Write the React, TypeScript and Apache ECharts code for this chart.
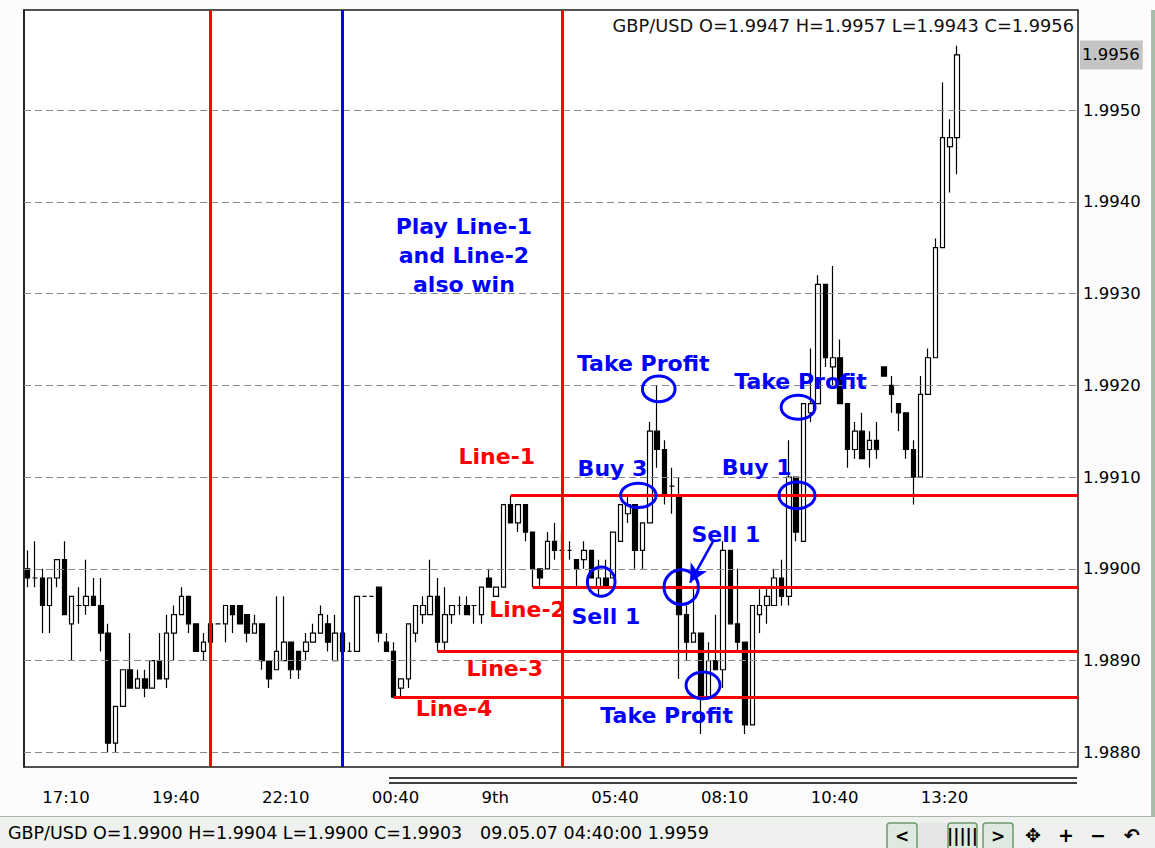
import React, { useEffect, useRef } from 'react';
import * as echarts from 'echarts';

const SYMBOL = 'GBP/USD';
const BAR_COUNT = 144;

// [open, close, low, high] per 10-minute bar
const candles: number[][] = [
  [1.9900, 1.9899, 1.9898, 1.9902], [1.9899, 1.9899, 1.9898, 1.9903], [1.9899, 1.9896, 1.9893, 1.9900], [1.9896, 1.9899, 1.9893, 1.9899],
  [1.9899, 1.9901, 1.9898, 1.9901], [1.9901, 1.9895, 1.9895, 1.9903], [1.9894, 1.9897, 1.9890, 1.9897], [1.9896, 1.9896, 1.9894, 1.9898],
  [1.9896, 1.9897, 1.9895, 1.9901], [1.9897, 1.9896, 1.9896, 1.9899], [1.9896, 1.9893, 1.9891, 1.9899], [1.9893, 1.9881, 1.9880, 1.9894],
  [1.9881, 1.9885, 1.9880, 1.9885], [1.9885, 1.9889, 1.9885, 1.9889], [1.9889, 1.9887, 1.9887, 1.9893], [1.9887, 1.9888, 1.9887, 1.9889],
  [1.9888, 1.9887, 1.9886, 1.9889], [1.9887, 1.9890, 1.9887, 1.9890], [1.9890, 1.9888, 1.9888, 1.9893], [1.9888, 1.9893, 1.9887, 1.9895],
  [1.9893, 1.9895, 1.9890, 1.9896], [1.9895, 1.9897, 1.9895, 1.9898], [1.9897, 1.9894, 1.9893, 1.9897], [1.9894, 1.9891, 1.9891, 1.9894],
  [1.9891, 1.9892, 1.9890, 1.9893], [1.9892, 1.9894, 1.9890, 1.9895], [1.9894, 1.9894, 1.9894, 1.9894], [1.9894, 1.9896, 1.9892, 1.9896],
  [1.9896, 1.9895, 1.9893, 1.9896], [1.9896, 1.9894, 1.9894, 1.9896], [1.9895, 1.9893, 1.9892, 1.9895], [1.9893, 1.9894, 1.9893, 1.9895],
  [1.9894, 1.9890, 1.9889, 1.9894], [1.9890, 1.9888, 1.9887, 1.9890], [1.9889, 1.9891, 1.9889, 1.9897], [1.9890, 1.9892, 1.9890, 1.9897],
  [1.9892, 1.9889, 1.9888, 1.9892], [1.9891, 1.9889, 1.9888, 1.9891], [1.9891, 1.9892, 1.9890, 1.9893], [1.9892, 1.9893, 1.9892, 1.9894],
  [1.9893, 1.9895, 1.9893, 1.9896], [1.9894, 1.9892, 1.9891, 1.9895], [1.9890, 1.9893, 1.9890, 1.9895], [1.9893, 1.9891, 1.9889, 1.9893],
  [1.9891, 1.9891, 1.9891, 1.9892], [1.9891, 1.9897, 1.9891, 1.9897], [1.9897, 1.9897, 1.9897, 1.9897], [1.9897, 1.9897, 1.9897, 1.9897],
  [1.9898, 1.9893, 1.9892, 1.9898], [1.9892, 1.9891, 1.9891, 1.9893], [1.9891, 1.9886, 1.9886, 1.9892], [1.9887, 1.9888, 1.9886, 1.9888],
  [1.9888, 1.9894, 1.9887, 1.9894], [1.9893, 1.9896, 1.9892, 1.9896], [1.9895, 1.9896, 1.9894, 1.9897], [1.9895, 1.9897, 1.9895, 1.9901],
  [1.9897, 1.9892, 1.9891, 1.9899], [1.9892, 1.9895, 1.9891, 1.9898], [1.9895, 1.9896, 1.9894, 1.9896], [1.9896, 1.9896, 1.9895, 1.9897],
  [1.9896, 1.9895, 1.9895, 1.9897], [1.9896, 1.9896, 1.9894, 1.9896], [1.9895, 1.9898, 1.9894, 1.9898], [1.9899, 1.9898, 1.9898, 1.9900],
  [1.9897, 1.9898, 1.9897, 1.9898], [1.9898, 1.9907, 1.9898, 1.9907], [1.9907, 1.9905, 1.9905, 1.9908], [1.9905, 1.9907, 1.9904, 1.9907],
  [1.9907, 1.9904, 1.9903, 1.9907], [1.9904, 1.9900, 1.9898, 1.9904], [1.9900, 1.9899, 1.9898, 1.9900], [1.9900, 1.9903, 1.9900, 1.9904],
  [1.9903, 1.9902, 1.9901, 1.9905], [1.9902, 1.9902, 1.9901, 1.9904], [1.9902, 1.9902, 1.9901, 1.9903], [1.9901, 1.9900, 1.9898, 1.9901],
  [1.9901, 1.9902, 1.9900, 1.9903], [1.9902, 1.9899, 1.9899, 1.9902], [1.9898, 1.9899, 1.9897, 1.9901], [1.9899, 1.9898, 1.9898, 1.9901],
  [1.9899, 1.9904, 1.9899, 1.9904], [1.9903, 1.9907, 1.9903, 1.9907], [1.9906, 1.9907, 1.9905, 1.9908], [1.9907, 1.9902, 1.9900, 1.9907],
  [1.9902, 1.9905, 1.9900, 1.9905], [1.9905, 1.9915, 1.9905, 1.9916], [1.9915, 1.9913, 1.9911, 1.9920], [1.9913, 1.9908, 1.9907, 1.9914],
  [1.9909, 1.9909, 1.9906, 1.9911], [1.9908, 1.9895, 1.9888, 1.9910], [1.9895, 1.9892, 1.9890, 1.9896], [1.9892, 1.9893, 1.9892, 1.9898],
  [1.9893, 1.9886, 1.9882, 1.9893], [1.9886, 1.9890, 1.9886, 1.9892], [1.9890, 1.9889, 1.9889, 1.9895], [1.9889, 1.9902, 1.9887, 1.9903],
  [1.9902, 1.9894, 1.9894, 1.9902], [1.9894, 1.9892, 1.9891, 1.9900], [1.9892, 1.9883, 1.9882, 1.9892], [1.9883, 1.9896, 1.9883, 1.9896],
  [1.9895, 1.9896, 1.9893, 1.9898], [1.9896, 1.9897, 1.9894, 1.9898], [1.9896, 1.9899, 1.9896, 1.9900], [1.9899, 1.9897, 1.9896, 1.9901],
  [1.9897, 1.9910, 1.9896, 1.9914], [1.9910, 1.9904, 1.9903, 1.9910], [1.9903, 1.9918, 1.9903, 1.9918], [1.9917, 1.9918, 1.9916, 1.9924],
  [1.9918, 1.9931, 1.9918, 1.9932], [1.9931, 1.9923, 1.9922, 1.9931], [1.9922, 1.9923, 1.9920, 1.9933], [1.9923, 1.9918, 1.9918, 1.9925],
  [1.9918, 1.9913, 1.9911, 1.9918], [1.9913, 1.9915, 1.9912, 1.9916], [1.9915, 1.9912, 1.9912, 1.9917], [1.9913, 1.9914, 1.9911, 1.9915],
  [1.9914, 1.9913, 1.9912, 1.9916], [1.9922, 1.9921, 1.9921, 1.9922], [1.9920, 1.9919, 1.9917, 1.9921], [1.9918, 1.9917, 1.9915, 1.9918],
  [1.9917, 1.9913, 1.9912, 1.9917], [1.9913, 1.9910, 1.9907, 1.9914], [1.9910, 1.9919, 1.9910, 1.9921], [1.9919, 1.9923, 1.9919, 1.9924],
  [1.9923, 1.9935, 1.9923, 1.9936], [1.9935, 1.9947, 1.9935, 1.9953], [1.9946, 1.9947, 1.9941, 1.9949], [1.9947, 1.9956, 1.9943, 1.9957],
];

const timeLabelBars = [2, 17, 32, 47, 62, 77, 92, 107, 122];
const timeLabels = ['17:10', '19:40', '22:10', '00:40', '9th', '05:40', '08:10', '10:40', '13:20'];

const priceTicks = [1.988, 1.989, 1.99, 1.991, 1.992, 1.993, 1.994, 1.995];
const Y_MIN = 1.98784;
const Y_MAX = 1.99609;

const verticalBars = [25, 43, 73];
const verticalColors = ['#ff0000', '#0000ff', '#ff0000'];

// horizontal trend levels: start bar, price
const levelStartBars = [66, 69, 56, 50];
const levelPrices = [1.9908, 1.9898, 1.9891, 1.9886];

// ellipses: [bar position, price, half width (bars), half height (price)]
const ellipses: number[][] = [
  [86.72, 1.99196, 2.23, 0.00014],
  [83.93, 1.9908, 2.42, 0.000133],
  [78.86, 1.98986, 1.89, 0.00016],
  [89.79, 1.9898, 2.35, 0.000189],
  [92.77, 1.98873, 2.32, 0.000145],
  [105.76, 1.99176, 2.32, 0.000131],
  [105.61, 1.9908, 2.46, 0.000145],
];

const noteTexts = ['Play Line-1\nand Line-2\nalso win', 'Take Profit', 'Take Profit', 'Line-1', 'Buy 3', 'Buy 1', 'Sell 1', 'Line-2', 'Sell 1', 'Line-3', 'Line-4', 'Take Profit'];
const noteBars = [60.1, 84.6, 106.1, 64.6, 80.4, 100.1, 95.9, 68.8, 79.5, 65.7, 58.75, 87.8];
const notePrices = [1.99341, 1.99224, 1.99204, 1.99122, 1.99109, 1.9911, 1.99037, 1.98956, 1.98948, 1.98891, 1.98848, 1.9884];
const noteIsRed = [false, false, false, true, false, false, false, true, false, true, true, false];

const arrowFrom = [94.14, 1.9903];
const arrowTo = [91.0, 1.98985];

const statusOHLC = [1.99, 1.9904, 1.99, 1.9903];
const statusTime = '09.05.07 04:40:00';
const statusPrice = 1.9959;

const FONT = '"DejaVu Sans", Verdana, sans-serif';
const f4 = (v: number) => v.toFixed(4);

export default function App() {
  const ref = useRef<HTMLDivElement>(null);
  useEffect(() => {
    if (!ref.current) return;
    const chart = echarts.init(ref.current, undefined, { renderer: 'svg' });
    const labelMap: Record<number, string> = {};
    timeLabelBars.forEach((b, i) => (labelMap[b] = timeLabels[i]));
    const cats = Array.from({ length: BAR_COUNT }, (_, i) => String(i));
    const last = candles[candles.length - 1];
    const titleText = `${SYMBOL} O=${f4(last[0])} H=${f4(last[3])} L=${f4(last[2])} C=${f4(last[1])}`;
    const statusText = `${SYMBOL} O=${f4(statusOHLC[0])} H=${f4(statusOHLC[1])} L=${f4(statusOHLC[2])} C=${f4(statusOHLC[3])}`;
    const statusText2 = `${statusTime} ${f4(statusPrice)}`;

    const btn = (x: number, w: number, label: string) => [
      { type: 'rect', shape: { x, y: 823, width: w, height: 28, r: 3 }, style: { fill: '#dfe9df', stroke: '#6f9a6f', lineWidth: 1.5 } },
      { type: 'text', x: x + w / 2, y: 836, style: { text: label, fill: '#000', font: `bold 17px ${FONT}`, textAlign: 'center', textVerticalAlign: 'middle', align: 'center', verticalAlign: 'middle' } },
    ];
    const icon = (x: number, label: string, size = 19) => ({
      type: 'text', x, y: 835,
      style: { text: label, fill: '#000', font: `bold ${size}px ${FONT}`, textAlign: 'center', textVerticalAlign: 'middle', align: 'center', verticalAlign: 'middle' },
    });

    const option: any = {
      animation: false,
      backgroundColor: '#fcfcfc',
      grid: {
        left: 24, right: 77, top: 10, bottom: 81, show: true,
        backgroundColor: '#ffffff', borderColor: '#1a1a1a', borderWidth: 1.5,
        containLabel: false, outerBoundsMode: 'none',
      },
      xAxis: [
        {
          type: 'category', data: cats, boundaryGap: true,
          axisLine: { show: false }, axisTick: { show: false }, splitLine: { show: false },
          axisLabel: {
            interval: 0, formatter: (_v: string, i: number) => labelMap[i] ?? '',
            align: 'left', margin: 22, color: '#000', fontFamily: FONT, fontSize: 16.5,
          },
        },
        { type: 'value', min: 0, max: BAR_COUNT, show: false },
      ],
      yAxis: {
        type: 'value', position: 'right', min: Y_MIN, max: Y_MAX, scale: true,
        axisLine: { show: true, lineStyle: { color: '#1a1a1a', width: 1.5 } },
        axisTick: { show: true, length: 3, customValues: priceTicks, lineStyle: { color: '#000' } },
        axisLabel: {
          customValues: priceTicks, showMinLabel: true, showMaxLabel: true,
          formatter: (v: number) => f4(v), margin: 5, color: '#000', fontFamily: FONT, fontSize: 16.5,
        },
        splitLine: { show: false },
      },
      series: [
        {
          type: 'line', data: [], xAxisIndex: 1, silent: true, z: 1,
          markLine: {
            silent: true, symbol: ['none', 'none'], label: { show: false },
            lineStyle: { color: '#888888', type: [7, 4], width: 1.2 },
            data: priceTicks.map((v) => [{ coord: [0, v] }, { coord: [BAR_COUNT, v] }]),
          },
        },
        {
          type: 'candlestick', data: candles, barWidth: 5, z: 2, silent: true,
          itemStyle: { color: '#ffffff', color0: '#000000', borderColor: '#000000', borderColor0: '#000000', borderColorDoji: '#000000', borderWidth: 1.2 },
          markLine: {
            silent: true, symbol: ['none', 'none'], label: { show: false },
            data: verticalBars.map((b, i) => ({ xAxis: b, lineStyle: { color: verticalColors[i], width: 3, type: 'solid' } })),
          },
        },
        {
          type: 'line', data: [], xAxisIndex: 1, silent: true, z: 3,
          markLine: {
            silent: true, symbol: ['none', 'none'], label: { show: false },
            lineStyle: { color: '#ff0000', width: 3, type: 'solid' },
            data: levelPrices.map((p, i) => [{ coord: [levelStartBars[i] + 0.5, p] }, { coord: [BAR_COUNT, p] }]),
          },
        },
        {
          type: 'line', data: [], xAxisIndex: 1, silent: true, z: 5,
          markLine: {
            silent: true, symbol: ['none', 'arrow'], symbolSize: [14, 18], label: { show: false },
            lineStyle: { color: '#0000ff', width: 2.5, type: 'solid' },
            data: [[{ coord: arrowFrom }, { coord: arrowTo }]],
          },
        },
        {
          type: 'line', data: [], xAxisIndex: 1, silent: true, z: 3,
          markLine: {
            silent: true, symbol: ['none', 'none'],
            lineStyle: { color: 'rgba(255,255,255,0)', width: 1, type: 'solid' },
            label: {
              show: true, position: 'end', distance: 2, formatter: f4(last[1]),
              backgroundColor: '#c4c4c4', padding: [7, 3, 5, 2], color: '#000', fontFamily: FONT, fontSize: 16.5,
            },
            data: [[{ coord: [BAR_COUNT - 1, last[1]] }, { coord: [BAR_COUNT, last[1]] }]],
          },
        },
        {
          type: 'custom', xAxisIndex: 1, z: 5, silent: true,
          data: ellipses, dimensions: ['bar', 'price', 'dw', 'dh'], encode: { x: 0, y: 1 },
          renderItem: (_p: any, api: any) => {
            const c = api.coord([api.value(0), api.value(1)]);
            const s = api.size([api.value(2), api.value(3)]);
            return {
              type: 'ellipse',
              shape: { cx: c[0], cy: c[1], rx: Math.abs(s[0]), ry: Math.abs(s[1]) },
              style: { fill: 'none', stroke: '#0000ff', lineWidth: 3 },
            };
          },
        },
        {
          type: 'custom', xAxisIndex: 1, z: 6, silent: true,
          data: noteBars.map((b, i) => [b, notePrices[i]]), encode: { x: 0, y: 1 },
          renderItem: (params: any, api: any) => {
            const c = api.coord([api.value(0), api.value(1)]);
            const i = params.dataIndex;
            return {
              type: 'text', x: c[0], y: c[1],
              style: {
                text: noteTexts[i], fill: noteIsRed[i] ? '#ff0000' : '#0000ff',
                font: `bold 22px ${FONT}`, lineHeight: 29,
                textAlign: 'center', textVerticalAlign: 'middle', align: 'center', verticalAlign: 'middle',
              },
            };
          },
        },
      ],
      graphic: [
        {
          type: 'text', x: 1074, y: 25.5, z: 10,
          style: { text: titleText, fill: '#111', font: `17.8px ${FONT}`, textAlign: 'right', textVerticalAlign: 'middle', align: 'right', verticalAlign: 'middle' },
        },
        { type: 'line', shape: { x1: 389, y1: 778, x2: 1077, y2: 778 }, style: { stroke: '#000', lineWidth: 1.5 } },
        { type: 'line', shape: { x1: 389, y1: 783, x2: 1077, y2: 783 }, style: { stroke: '#000', lineWidth: 1.5 } },
        { type: 'rect', shape: { x: 1151, y: 10, width: 4, height: 806 }, style: { fill: '#a9bba9' } },
        { type: 'rect', shape: { x: 0, y: 816, width: 1155, height: 32 }, style: { fill: '#eef1ee' } },
        { type: 'line', shape: { x1: 0, y1: 816.5, x2: 1155, y2: 816.5 }, style: { stroke: '#aab4aa', lineWidth: 1 } },
        {
          type: 'text', x: 8, y: 833,
          style: { text: statusText, fill: '#000', font: `17.5px ${FONT}`, textAlign: 'left', textVerticalAlign: 'middle', align: 'left', verticalAlign: 'middle' },
        },
        {
          type: 'text', x: 480, y: 833,
          style: { text: statusText2, fill: '#000', font: `17.5px ${FONT}`, textAlign: 'left', textVerticalAlign: 'middle', align: 'left', verticalAlign: 'middle' },
        },
        { type: 'rect', shape: { x: 917, y: 823, width: 31, height: 28 }, style: { fill: '#e6e6e6' } },
        ...btn(887, 30, '<'),
        ...btn(948, 29, '|||||'),
        ...btn(983, 30, '>'),
        icon(1033, '✥'),
        icon(1066, '+'),
        icon(1098, '−'),
        icon(1132, '↶'),
      ],
    };
    chart.setOption(option);
    return () => chart.dispose();
  }, []);
  return <div ref={ref} style={{ position: 'fixed', left: 0, top: 0, width: 1155, height: 848 }} />;
}
